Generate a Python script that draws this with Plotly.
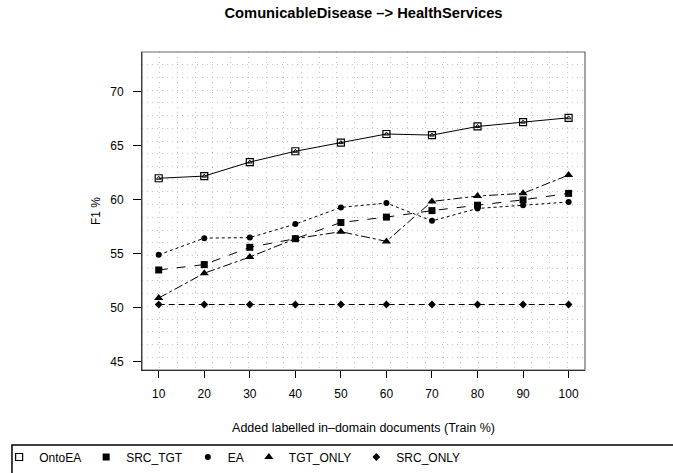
import plotly.graph_objects as go

# ---- data ----
train_pct = [10, 20, 30, 40, 50, 60, 70, 80, 90, 100]
onto_ea = [62.0, 62.2, 63.5, 64.5, 65.3, 66.1, 66.0, 66.8, 67.2, 67.6]
src_tgt = [53.5, 54.0, 55.6, 56.4, 57.9, 58.4, 59.0, 59.5, 60.0, 60.6]
ea = [54.9, 56.45, 56.5, 57.75, 59.3, 59.7, 58.05, 59.2, 59.5, 59.8]
tgt_only = [50.9, 53.2, 54.7, 56.4, 57.05, 56.15, 59.85, 60.35, 60.6, 62.3]
src_only = [50.3, 50.3, 50.3, 50.3, 50.3, 50.3, 50.3, 50.3, 50.3, 50.3]
x_ticks = [10, 20, 30, 40, 50, 60, 70, 80, 90, 100]
y_ticks = [45, 50, 55, 60, 65, 70]

title = "ComunicableDisease –> HealthServices"
x_title = "Added labelled in–domain documents (Train %)"
y_title = "F1 %"

FONT = "Liberation Sans, Arial, Helvetica, sans-serif"
X_RANGE = [6.33, 103.6]
Y_RANGE = [44.23, 73.7]

series = [
    ("OntoEA", onto_ea, "solid", dict(symbol="square-open", size=7, color="black",
                                      line=dict(width=1.2, color="black"))),
    ("SRC_TGT", src_tgt, "dash", dict(symbol="square", size=7, color="black")),
    ("EA", ea, "dot", dict(symbol="circle", size=6, color="black")),
    ("TGT_ONLY", tgt_only, "dashdot", dict(symbol="triangle-up", size=8, color="black")),
    ("SRC_ONLY", src_only, "6px,4px", dict(symbol="diamond", size=6, color="black")),
]

fig = go.Figure()
for name, vals, dash, marker in series:
    fig.add_trace(go.Scatter(
        x=train_pct, y=vals, name=name, mode="lines", showlegend=False, hoverinfo="skip",
        line=dict(color="black", width=1, dash=dash)))
for name, vals, dash, marker in series:
    fig.add_trace(go.Scatter(x=train_pct, y=vals, name=name, mode="markers", marker=marker))
    if name == "OntoEA":
        fig.add_trace(go.Scatter(
            x=train_pct, y=vals, name=name, mode="markers", showlegend=False, hoverinfo="skip",
            marker=dict(symbol="triangle-up-open", size=4, color="black",
                        line=dict(width=1, color="black"))))

grid_dx = (X_RANGE[1] - X_RANGE[0]) / 25
grid_dy = (Y_RANGE[1] - Y_RANGE[0]) / 25
GRID = "#c4c4c4"

fig.update_xaxes(
    range=X_RANGE, tickvals=x_ticks, ticks="outside", ticklen=7, tickcolor="black",
    showline=True, linecolor="black", linewidth=1, showgrid=False, zeroline=False,
    tickfont=dict(family=FONT, size=12, color="black"), ticklabelstandoff=6,
    title=dict(text=x_title, font=dict(family=FONT, size=12.5, color="black"), standoff=22),
    minor=dict(showgrid=True, tick0=X_RANGE[0], dtick=grid_dx, gridcolor=GRID,
               griddash="1px,4px", gridwidth=1, ticks=""),
)
fig.update_yaxes(
    range=Y_RANGE, tickvals=y_ticks, ticks="outside", ticklen=8, tickcolor="black",
    showline=True, linecolor="black", linewidth=1, showgrid=False, zeroline=False,
    tickfont=dict(family=FONT, size=12, color="black"), ticklabelstandoff=7,
    title=dict(text=y_title, font=dict(family=FONT, size=12, color="black"), standoff=7),
    minor=dict(showgrid=True, tick0=Y_RANGE[0], dtick=grid_dy, gridcolor=GRID,
               griddash="1px,4px", gridwidth=1, ticks=""),
)

# plot frame
fig.add_shape(type="rect", xref="paper", yref="paper", x0=0, y0=0, x1=1, y1=1,
              line=dict(color="#666666", width=1.2), layer="above")
# legend box
fig.add_shape(type="rect", xref="paper", yref="paper", x0=-0.2935, x1=1.25, y0=-0.2358, y1=-0.40,
              line=dict(color="black", width=1.5))

fig.update_layout(
    width=673, height=473,
    margin=dict(l=142, r=88, t=52, b=103, autoexpand=False),
    paper_bgcolor="white", plot_bgcolor="white",
    font=dict(family=FONT, size=12, color="black"),
    title=dict(text="<b>" + title + "</b>", x=(142 + 443 / 2) / 673, xanchor="center",
               y=1 - 13 / 473, yanchor="middle", font=dict(family=FONT, size=14.7, color="black")),
    showlegend=True,
    legend=dict(orientation="h", xref="paper", x=-0.3225, xanchor="left",
                yref="paper", y=-0.2736, yanchor="middle",
                font=dict(family=FONT, size=12, color="black"),
                bgcolor="rgba(0,0,0,0)", borderwidth=0, itemwidth=30, tracegroupgap=0),
)

fig.write_html("out.html")
